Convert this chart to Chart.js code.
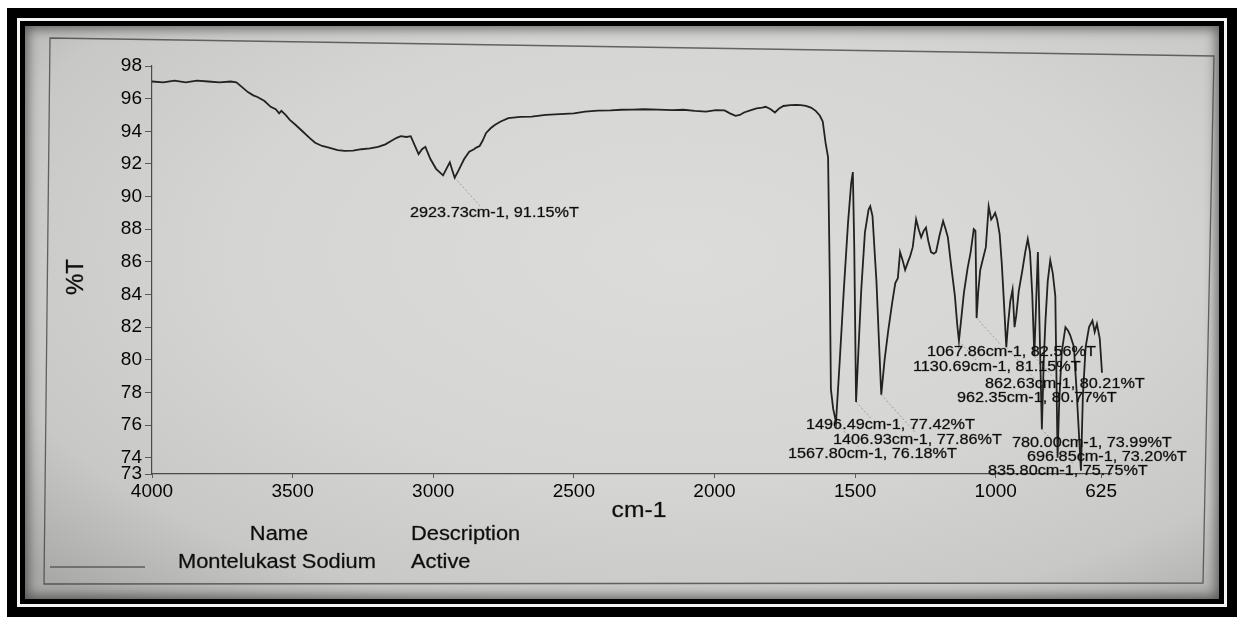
<!DOCTYPE html>
<html>
<head>
<meta charset="utf-8">
<title>Montelukast Sodium - IR spectrum</title>
<script src="https://cdn.jsdelivr.net/npm/chart.js@4.4.1/dist/chart.umd.min.js"></script>
<style>
  html, body { margin: 0; padding: 0; background: #fff; }
  body { width: 1239px; height: 617px; position: relative; overflow: hidden; }
  #frame { position: absolute; left: 7px; top: 8px; width: 1230px; height: 609px; background: #000; }
  #rule { position: absolute; left: 10px; top: 10px; right: 10px; bottom: 10px; background: #f4f4f4; }
  #inner { position: absolute; left: 3px; top: 3px; right: 3px; bottom: 3px; background: #000; }
  #paper { position: absolute; left: 5px; top: 5px; right: 5px; bottom: 5px;
           background: radial-gradient(ellipse 75% 80% at 55% 40%, #dcdcda 0%, #d5d5d3 50%, #c8c8c6 80%, #a9a9a7 100%);
           box-shadow: inset 0 0 12px 3px rgba(0,0,0,0.5); }
  #spectrum { position: absolute; left: 0; top: 0; }
</style>
</head>
<body>
<div id="frame"><div id="rule"><div id="inner"><div id="paper"></div></div></div></div>
<canvas id="spectrum" width="1239" height="617"></canvas>
<script>
// spectrum (wavenumber cm-1 / %T)
var wavenumber = [
  4000, 3960, 3920, 3880, 3840, 3800, 3760, 3720, 3700, 3686,
  3659, 3640, 3625, 3600, 3578, 3560, 3548, 3540, 3525, 3510,
  3490, 3465, 3440, 3420, 3395, 3371, 3340, 3315, 3285, 3255,
  3225, 3196, 3170, 3150, 3130, 3115, 3095, 3080, 3065, 3052,
  3040, 3028, 3010, 2990, 2965, 2950, 2941, 2932, 2923.73, 2910,
  2890, 2872, 2855, 2847, 2835, 2825, 2812, 2795, 2780, 2760,
  2733, 2690, 2650, 2600, 2550, 2500, 2460, 2415, 2370, 2330,
  2294, 2250, 2200, 2150, 2110, 2070, 2030, 1995, 1964, 1945,
  1925, 1910, 1895, 1870, 1850, 1830, 1818, 1800, 1785, 1770,
  1755, 1730, 1710, 1693, 1675, 1657, 1640, 1625, 1615, 1605,
  1596, 1590, 1586, 1578, 1567.80, 1555, 1540, 1525, 1514, 1508,
  1503, 1496.49, 1488, 1478, 1465, 1452, 1446, 1438, 1430, 1424,
  1416, 1406.93, 1395, 1382, 1368, 1357, 1348, 1340, 1331, 1322,
  1312, 1305, 1295, 1283, 1274, 1265, 1256, 1248, 1240, 1230,
  1220, 1212, 1200, 1187, 1178, 1170, 1160, 1145, 1137, 1130.69,
  1122, 1113, 1100, 1089, 1078, 1072, 1067.86, 1062, 1055, 1045,
  1035, 1025, 1016, 1008, 1002, 995, 986, 978, 970, 962.35,
  956, 948, 940, 933, 927, 918, 905, 895, 886, 878,
  870, 862.63, 856, 850, 844, 835.80, 829, 823, 815, 806,
  797, 788, 784, 780.00, 774, 765, 752, 743, 735, 722,
  712, 696.85, 690, 680, 668, 656, 648, 640, 630, 622
];
var transmittance = [
  97.05, 97.0, 97.1, 97.0, 97.1, 97.05, 97.0, 97.05, 97.0, 96.8,
  96.4, 96.2, 96.1, 95.85, 95.5, 95.35, 95.1, 95.25, 95.0, 94.7,
  94.4, 94.0, 93.6, 93.3, 93.1, 93.0, 92.85, 92.8, 92.82, 92.9,
  92.95, 93.05, 93.2, 93.4, 93.6, 93.7, 93.65, 93.7, 93.1, 92.6,
  92.9, 93.05, 92.3, 91.7, 91.3, 91.8, 92.1, 91.6, 91.15, 91.6,
  92.3, 92.75, 92.9, 93.0, 93.1, 93.4, 93.9, 94.2, 94.4, 94.6,
  94.8, 94.88, 94.9, 95.0, 95.05, 95.1, 95.2, 95.27, 95.28, 95.32,
  95.33, 95.35, 95.33, 95.3, 95.32, 95.25, 95.2, 95.3, 95.28, 95.1,
  94.95, 95.0, 95.15, 95.3, 95.4, 95.45, 95.5, 95.35, 95.15, 95.4,
  95.55, 95.6, 95.62, 95.6, 95.55, 95.45, 95.25, 94.95, 94.6, 93.3,
  92.4, 85.0, 78.2, 77.0, 76.18, 79.8, 84.3, 88.4, 90.8, 91.5,
  87.0, 77.42, 80.6, 84.3, 87.8, 89.2, 89.4, 88.8, 86.5, 84.8,
  81.5, 77.86, 80.0, 81.8, 83.5, 84.7, 85.0, 86.6, 86.1, 85.5,
  86.0, 86.3, 86.9, 88.6, 88.0, 87.5, 87.9, 88.1, 87.3, 86.6,
  86.5, 86.6, 87.6, 88.5, 88.0, 87.5, 86.0, 83.9, 82.2, 81.15,
  82.6, 84.1, 85.6, 86.6, 88.0, 87.9, 82.56, 84.2, 85.5, 86.2,
  86.9, 89.4, 88.6, 88.8, 89.0, 88.6, 87.7, 85.8, 83.3, 80.77,
  82.2, 83.6, 84.3, 82.0, 82.7, 84.2, 85.5, 86.6, 87.4, 86.6,
  84.0, 80.21, 83.6, 86.6, 82.0, 75.75, 80.0, 82.4, 84.8, 86.1,
  85.3, 83.9, 79.0, 73.99, 77.5, 80.5, 82.0, 81.8, 81.5, 80.8,
  78.0, 73.20, 77.8, 80.8, 82.0, 82.4, 81.7, 82.2, 81.3, 79.2
];

// peaks picked by the instrument software
var peakWavenumber = [2923.73, 1067.86, 1130.69, 862.63, 962.35, 1496.49, 1406.93, 780.00, 1567.80, 696.85, 835.80];
var peakTransmittance = [91.15, 82.56, 81.15, 80.21, 80.77, 77.42, 77.86, 73.99, 76.18, 73.20, 75.75];

var xTicks = [4000, 3500, 3000, 2500, 2000, 1500, 1000, 625];
var yTicks = [73, 74, 76, 78, 80, 82, 84, 86, 88, 90, 92, 94, 96, 98];

var sampleNames = ['Montelukast Sodium'];
var sampleDescriptions = ['Active'];

// where the peak labels sit on the page (left edge, middle line)
var peakLabelPos = [
  [410, 213], [927, 352], [913, 367], [985, 384], [957, 398], [806, 425],
  [833, 440], [1012, 443], [788, 454], [1027, 457], [988, 471]
];

var FONT = '"Liberation Sans", Arial, sans-serif';
var INK = '#0e0e0e';

function wideText(ctx, text, x, y, size, align, sx) {
    ctx.save();
    ctx.translate(x, y);
    ctx.scale(sx, 1);
    ctx.font = size + 'px ' + FONT;
    ctx.textAlign = align;
    ctx.textBaseline = 'middle';
    ctx.fillStyle = INK;
    ctx.strokeStyle = 'rgba(14,14,14,0.5)';
    ctx.lineWidth = 0.5;
    ctx.fillText(text, 0, 0);
    ctx.strokeText(text, 0, 0);
    ctx.restore();
}

var printout = {
    id: 'printout',
    beforeDraw: function(chart) {
        var ctx = chart.ctx;
        // border printed round the report
        ctx.save();
        ctx.strokeStyle = 'rgba(60,60,60,0.75)';
        ctx.lineWidth = 1.3;
        ctx.beginPath();
        ctx.moveTo(50, 38);
        ctx.lineTo(1214, 56);
        ctx.lineTo(1203, 583);
        ctx.lineTo(44, 584);
        ctx.closePath();
        ctx.stroke();
        ctx.restore();
    },
    afterDraw: function(chart) {
        var ctx = chart.ctx;
        var xs = chart.scales.x, ys = chart.scales.y;

        // peak labels with their faint leader lines
        for (var i = 0; i < peakWavenumber.length; i++) {
            var px = xs.getPixelForValue(peakWavenumber[i]);
            var py = ys.getPixelForValue(peakTransmittance[i]);
            var lx = peakLabelPos[i][0], ly = peakLabelPos[i][1];
            var top = ly - 7;
            if (top > py + 5) {
                ctx.save();
                ctx.strokeStyle = 'rgba(90,90,90,0.45)';
                ctx.lineWidth = 1;
                ctx.setLineDash([2, 2]);
                ctx.beginPath();
                ctx.moveTo(px, py);
                ctx.lineTo(px + (top - py) * 0.9, top);
                ctx.stroke();
                ctx.restore();
            }
            var txt = peakWavenumber[i].toFixed(2) + 'cm-1, ' + peakTransmittance[i].toFixed(2) + '%T';
            wideText(ctx, txt, lx, ly, 14.5, 'left', 1.12);
        }

        // axis titles
        wideText(ctx, 'cm-1', 639, 511, 22, 'center', 1.12);
        ctx.save();
        ctx.translate(76, 277);
        ctx.rotate(-Math.PI / 2);
        ctx.font = '24px ' + FONT;
        ctx.textAlign = 'center';
        ctx.textBaseline = 'middle';
        ctx.fillStyle = INK;
        ctx.strokeStyle = 'rgba(14,14,14,0.5)';
        ctx.lineWidth = 0.6;
        ctx.fillText('%T', 0, 0);
        ctx.strokeText('%T', 0, 0);
        ctx.restore();

        // sample table under the plot
        wideText(ctx, 'Name', 279, 535, 19.5, 'center', 1.12);
        wideText(ctx, 'Description', 411, 535, 19.5, 'left', 1.12);
        for (var j = 0; j < sampleNames.length; j++) {
            var rowY = 563 + j * 28;
            ctx.save();
            ctx.strokeStyle = 'rgba(70,70,70,0.8)';
            ctx.lineWidth = 1.5;
            ctx.beginPath();
            ctx.moveTo(50, rowY + 4);
            ctx.lineTo(145, rowY + 4);
            ctx.stroke();
            ctx.restore();
            wideText(ctx, sampleNames[j], 178, rowY, 19.5, 'left', 1.12);
            wideText(ctx, sampleDescriptions[j], 411, rowY, 19.5, 'left', 1.12);
        }
    }
};

window.onload = function() {
    var ctx = document.getElementById('spectrum').getContext('2d');
    var points = wavenumber.map(function(w, i) { return { x: w, y: transmittance[i] }; });
    window.irChart = new Chart(ctx, {
        type: 'line',
        data: {
            datasets: [{
                label: 'Montelukast Sodium',
                data: points,
                borderColor: '#222222',
                borderWidth: 1.8,
                pointRadius: 0,
                tension: 0,
                fill: false
            }]
        },
        options: {
            responsive: false,
            animation: false,
            devicePixelRatio: 1,
            layout: { padding: { left: 0, top: 66, right: 128, bottom: 103 } },
            plugins: {
                legend: { display: false },
                tooltip: { enabled: false }
            },
            scales: {
                x: {
                    type: 'linear',
                    reverse: true,
                    min: 590,
                    max: 4000,
                    afterBuildTicks: function(scale) {
                        scale.ticks = xTicks.map(function(v) { return { value: v }; });
                    },
                    afterFit: function(scale) { scale.height = 40; },
                    border: { color: '#4a4a4a', width: 1.2 },
                    grid: { display: true, drawOnChartArea: false, tickLength: 4, color: '#5a5a5a' },
                    ticks: {
                        autoSkip: false,
                        maxRotation: 0,
                        padding: 2,
                        color: '#050505',
                        font: { family: FONT, size: 19 },
                        callback: function(v) { return String(v); }
                    }
                },
                y: {
                    min: 73,
                    max: 98,
                    afterBuildTicks: function(scale) {
                        scale.ticks = yTicks.map(function(v) { return { value: v }; });
                    },
                    afterFit: function(scale) { scale.width = 152; },
                    border: { color: '#4a4a4a', width: 1.2 },
                    grid: { display: true, drawOnChartArea: false, tickLength: 7, color: '#5a5a5a' },
                    ticks: {
                        padding: 3,
                        color: '#050505',
                        font: { family: FONT, size: 19 },
                        callback: function(v) { return String(v); }
                    }
                }
            }
        },
        plugins: [printout]
    });
};
</script>
</body>
</html>
